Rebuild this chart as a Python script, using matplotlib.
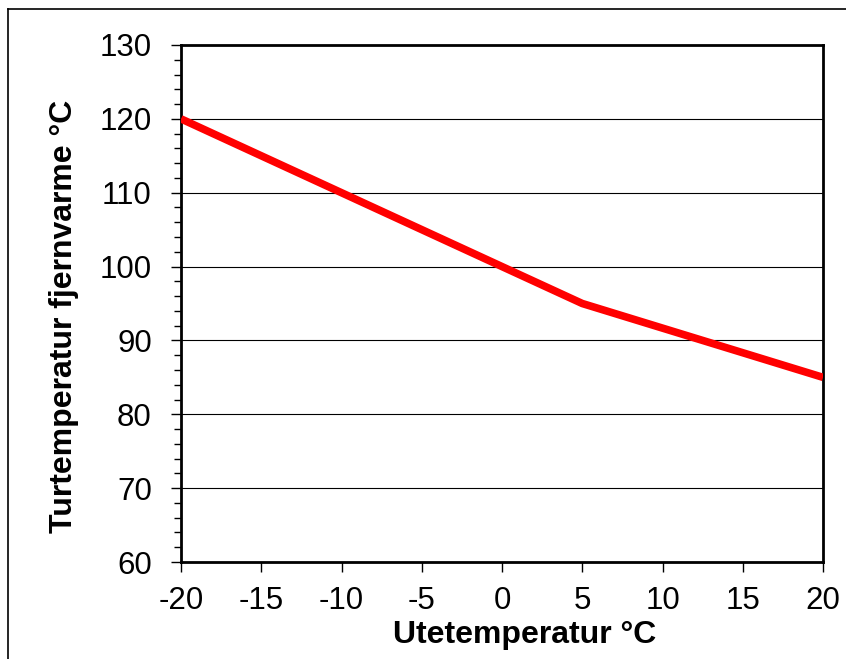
import matplotlib
matplotlib.use('Agg')
import matplotlib.pyplot as plt
from matplotlib.ticker import MultipleLocator
from matplotlib.lines import Line2D

ute_temp = [-20, -10, 0, 5, 20]
tur_temp = [120, 110, 100, 95, 85]

plt.rcParams['font.family'] = ['Liberation Sans', 'DejaVu Sans']
plt.rcParams['axes.unicode_minus'] = False

fig = plt.figure(figsize=(8.46, 6.59), dpi=100)
ax = fig.add_axes([181 / 846, 1 - 562 / 659, (823 - 181) / 846, (562 - 45) / 659])

# thin outer frame (only top and left visible in the reference)
fig.add_artist(Line2D([8 / 846, 8 / 846], [0, 1 - 9 / 659], transform=fig.transFigure, color='black', lw=1.2))
fig.add_artist(Line2D([8 / 846, 1], [1 - 9 / 659, 1 - 9 / 659], transform=fig.transFigure, color='black', lw=1.2))

ax.plot(ute_temp, tur_temp, color='#ff0000', lw=5.5, solid_capstyle='butt', zorder=3)

ax.set_xlim(-20, 20)
ax.set_ylim(60, 130)
ax.xaxis.set_major_locator(MultipleLocator(5))
ax.yaxis.set_major_locator(MultipleLocator(10))
ax.yaxis.set_minor_locator(MultipleLocator(2))
ax.grid(axis='y', which='major', color='black', lw=0.8)
ax.set_axisbelow(True)

for s in ax.spines.values():
    s.set_linewidth(2)
ax.tick_params(which='major', direction='out', length=7, width=1, labelsize=22.5)
ax.tick_params(axis='y', which='major', pad=14)
ax.tick_params(axis='x', which='major', pad=10)
ax.tick_params(which='minor', direction='out', length=5, width=1)
ax.tick_params(axis='x', which='minor', bottom=False)

ax.set_xlabel('Utetemperatur °C', fontsize=23, fontweight='bold', labelpad=3)
ax.xaxis.label.set_x(0.535)
ax.set_ylabel('Turtemperatur fjernvarme °C', fontsize=23, fontweight='bold', labelpad=15)
ax.yaxis.label.set_y(0.476)

fig.savefig('out.png', dpi=100)
